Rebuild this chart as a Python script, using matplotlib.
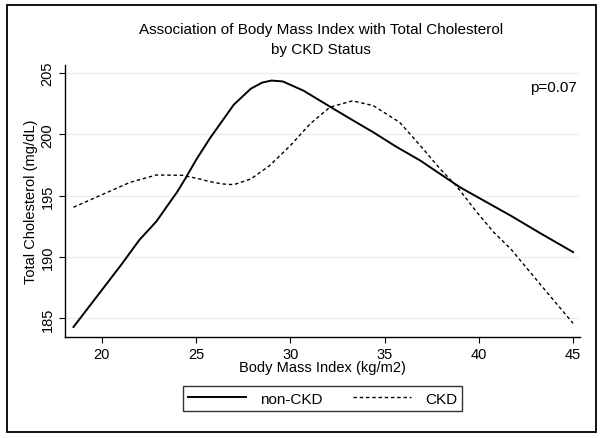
import matplotlib
matplotlib.use("Agg")
import matplotlib.pyplot as plt
from matplotlib.patches import Rectangle

plt.rcParams['font.family'] = ['Liberation Sans', 'DejaVu Sans']

# Values
bmi_non_ckd = [18.5, 19.9, 21.0, 22.0, 22.9, 23.4, 24.0, 24.4, 25.0, 25.75, 26.4, 27.0, 27.9,
               28.5, 29.0, 29.6, 30.7, 32.1, 33.2, 34.4, 35.6, 36.9, 39.0, 41.7, 43.3, 45.0]
chol_non_ckd = [184.3, 187.1, 189.3, 191.4, 192.9, 194.0, 195.3, 196.3, 197.9, 199.7, 201.1,
                202.4, 203.7, 204.2, 204.37, 204.3, 203.55, 202.25, 201.24, 200.16, 199.0,
                197.85, 195.68, 193.36, 191.9, 190.4]

bmi_ckd = [18.5, 19.9, 21.5, 22.9, 24.3, 25.2, 25.75, 26.4, 27.0, 27.9, 28.9, 30.0, 31.05,
           32.1, 33.3, 34.4, 35.8, 36.9, 37.95, 38.8, 39.9, 40.8, 41.7, 43.3, 45.0]
chol_ckd = [194.05, 195.0, 196.08, 196.68, 196.65, 196.35, 196.13, 195.95, 195.89, 196.35,
            197.44, 199.07, 200.84, 202.2, 202.72, 202.33, 200.97, 199.07, 197.17, 195.81,
            193.64, 192.0, 190.65, 187.7, 184.6]

x_ticks = [20, 25, 30, 35, 40, 45]
y_ticks = [185, 190, 195, 200, 205]

fig = plt.figure(figsize=(6.02, 4.39), dpi=100)
ax = fig.add_axes([0.108, 0.230, 0.8555, 0.620])

for y in y_ticks:
    ax.axhline(y, color='#e8f0f1', lw=1.0, zorder=0)

ax.plot(bmi_non_ckd, chol_non_ckd, color='black', lw=1.4, label='non-CKD')
ax.plot(bmi_ckd, chol_ckd, color='black', lw=1.0, linestyle=(0, (2.5, 2)), label='CKD')

ax.set_xlim(18.05, 45.37)
ax.set_ylim(183.48, 205.65)
ax.set_xticks(x_ticks)
ax.set_yticks(y_ticks)
ax.tick_params(axis='both', direction='out', length=4, width=0.8, labelsize=10.5, colors='black')
for lab in ax.get_yticklabels():
    lab.set_rotation(90)
    lab.set_va('center')
ax.spines['top'].set_visible(False)
ax.spines['right'].set_visible(False)
ax.spines['left'].set_linewidth(1.0)
ax.spines['bottom'].set_linewidth(1.0)

ax.set_xlabel('Body Mass Index (kg/m2)', fontsize=10.5, labelpad=-1)
ax.set_ylabel('Total Cholesterol (mg/dL)', fontsize=10.5, labelpad=2)

ax.text(45.2, 203.85, 'p=0.07', ha='right', va='center', fontsize=11)

fig.text(0.533, 1 - 30 / 439, 'Association of Body Mass Index with Total Cholesterol',
         ha='center', va='center', fontsize=11)
fig.text(0.533, 1 - 50 / 439, 'by CKD Status', ha='center', va='center', fontsize=11)

leg = fig.legend(loc='center', bbox_to_anchor=(0.5357, 0.0899), ncol=2, frameon=True,
                 fancybox=False, edgecolor='black', fontsize=11, handlelength=3.8,
                 columnspacing=2.0, borderpad=0.35, handletextpad=0.9)
leg.get_frame().set_linewidth(1.0)

# outer frame around the whole graph
fig.patches.append(Rectangle((7 / 602, 6 / 439), 589 / 602, 427 / 439, transform=fig.transFigure,
                             fill=False, edgecolor='black', lw=1.3))

fig.savefig('out.png', dpi=100)
